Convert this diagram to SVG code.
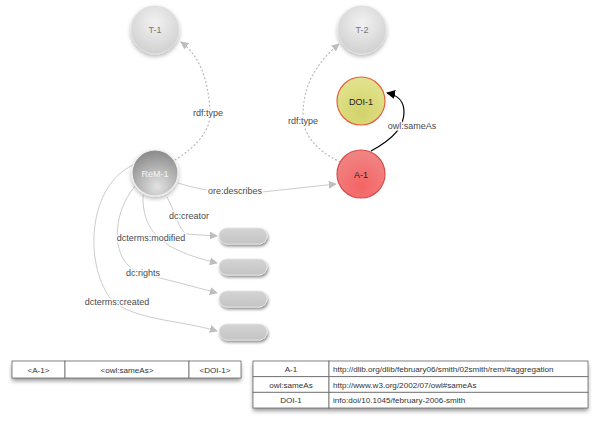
<svg xmlns="http://www.w3.org/2000/svg" width="598" height="427" viewBox="0 0 598 427">
<style>
text{font-family:"Liberation Sans",Arial,Helvetica,sans-serif;}
.nl{font-size:9px;text-anchor:middle;}
.el{font-size:9px;fill:#4a4a4a;text-anchor:middle;paint-order:stroke;stroke:#fff;stroke-width:3px;stroke-linejoin:round;}
.e{fill:none;stroke:#cccccc;stroke-width:1;}
.dot{fill:none;stroke:#b8b8b8;stroke-width:1.2;stroke-dasharray:1 3;stroke-linecap:round;}
.tt{font-size:8.1px;fill:#333;}
.cell{fill:#fff;stroke:#666;stroke-width:0.8;}
</style>
<defs>
<filter id="sh" x="-40%" y="-40%" width="180%" height="180%"><feDropShadow dx="0" dy="2" stdDeviation="2" flood-color="#000" flood-opacity="0.3"/></filter>
<filter id="shp" x="-30%" y="-60%" width="160%" height="220%"><feDropShadow dx="1" dy="2" stdDeviation="1.5" flood-color="#000" flood-opacity="0.45"/></filter>
<filter id="sht" x="-5%" y="-30%" width="110%" height="170%"><feDropShadow dx="0" dy="3" stdDeviation="2.2" flood-color="#000" flood-opacity="0.4"/></filter>
<radialGradient id="gT" cx="0.5" cy="0.35" r="0.65"><stop offset="0" stop-color="#f2f2f2"/><stop offset="1" stop-color="#d0d0d0"/></radialGradient>
<radialGradient id="gR" cx="0.55" cy="0.8" r="0.75"><stop offset="0" stop-color="#e2e2e2"/><stop offset="1" stop-color="#8e8e8e"/></radialGradient>
<radialGradient id="gD" cx="0.5" cy="0.75" r="0.7"><stop offset="0" stop-color="#d2d26a"/><stop offset="1" stop-color="#e2e28e"/></radialGradient>
<radialGradient id="gA" cx="0.5" cy="0.75" r="0.7"><stop offset="0" stop-color="#f56464"/><stop offset="1" stop-color="#f08484"/></radialGradient>
<linearGradient id="gP" x1="0" y1="0" x2="0" y2="1"><stop offset="0" stop-color="#d4d4d4"/><stop offset="1" stop-color="#c4c4c4"/></linearGradient>
<marker id="ag" viewBox="0 0 10 10" refX="9" refY="5" markerWidth="8" markerHeight="8" markerUnits="userSpaceOnUse" orient="auto"><path d="M0,0 L10,5 L0,10 z" fill="#bdbdbd"/></marker>
<marker id="ak" viewBox="0 0 10 10" refX="9" refY="5" markerWidth="9" markerHeight="9" markerUnits="userSpaceOnUse" orient="auto"><path d="M0,0 L10,5 L0,10 z" fill="#000"/></marker>
</defs>

<g id="connectors">
<path class="dot" d="M175,160 C196,147 212,130 210,110 C208,80 200,56 181,42" marker-end="url(#ag)"/>
<path class="dot" d="M340,162 C316,150 303,135 303,115 C303,86 316,63 339,44" marker-end="url(#ag)"/>
<path d="M371,151 C395,138 404,126 404,112 C404,102 398,95 387,93" fill="none" stroke="#000" stroke-width="1.2" marker-end="url(#ak)"/>
<path class="e" d="M178,183 C205,192 235,194 262,192 L336,184" marker-end="url(#ag)"/>
<path class="e" d="M167,197 C176,214 178,228 186,234 L217,236" marker-end="url(#ag)"/>
<path class="e" d="M143,195 C142,232 162,250 217,263" marker-end="url(#ag)"/>
<path class="e" d="M135,186 C111,215 110,262 140,273 C168,280 192,286 217,293" marker-end="url(#ag)"/>
<path class="e" d="M133,165 C88,186 84,262 110,298 C130,320 180,320 217,331" marker-end="url(#ag)"/>
<text class="el" x="208" y="116">rdf:type</text>
<text class="el" x="303" y="124">rdf:type</text>
<text class="el" x="412" y="129">owl:sameAs</text>
<text class="el" x="235" y="194">ore:describes</text>
<text class="el" x="189" y="219">dc:creator</text>
<text class="el" x="151" y="241">dcterms:modified</text>
<text class="el" x="143" y="276">dc:rights</text>
<text class="el" x="117" y="305">dcterms:created</text>
</g>

<g id="T-1"><circle cx="155" cy="30" r="24" fill="url(#gT)" stroke="#e0e0e0" stroke-width="1" filter="url(#sh)"/><text class="nl" x="155" y="33" fill="#777">T-1</text></g>
<g id="T-2"><circle cx="362" cy="30" r="24" fill="url(#gT)" stroke="#e0e0e0" stroke-width="1" filter="url(#sh)"/><text class="nl" x="362" y="33" fill="#777">T-2</text></g>
<g id="DOI-1"><circle cx="361" cy="101" r="24" fill="url(#gD)" stroke="#e2603c" stroke-width="1.2"/><text class="nl" x="361" y="104.5" fill="#222">DOI-1</text></g>
<g id="A-1"><circle cx="361" cy="174" r="24" fill="url(#gA)" stroke="#d84c4c" stroke-width="1.2"/><text class="nl" x="361" y="177.5" fill="#222">A-1</text></g>
<g id="ReM-1"><circle cx="155" cy="173" r="23" fill="url(#gR)" stroke="#eeeeee" stroke-width="1.2" filter="url(#sh)"/><text class="nl" x="155" y="176.5" fill="#f4f4f4">ReM-1</text></g>

<g id="lit-1"><rect x="219" y="228" width="48" height="16" rx="8" fill="url(#gP)" stroke="#e6e6e6" stroke-width="0.8" filter="url(#shp)"/></g>
<g id="lit-2"><rect x="219" y="259" width="48" height="16" rx="8" fill="url(#gP)" stroke="#e6e6e6" stroke-width="0.8" filter="url(#shp)"/></g>
<g id="lit-3"><rect x="219" y="291" width="48" height="16" rx="8" fill="url(#gP)" stroke="#e6e6e6" stroke-width="0.8" filter="url(#shp)"/></g>
<g id="lit-4"><rect x="219" y="324" width="48" height="16" rx="8" fill="url(#gP)" stroke="#e6e6e6" stroke-width="0.8" filter="url(#shp)"/></g>

<g id="table-triple">
<rect x="12" y="361" width="229" height="17" fill="#fff" filter="url(#sht)"/>
<rect class="cell" x="12" y="361" width="53" height="17"/>
<rect class="cell" x="65" y="361" width="124" height="17"/>
<rect class="cell" x="189" y="361" width="52" height="17"/>
<text class="tt" x="38.5" y="372.5" text-anchor="middle">&lt;A-1&gt;</text>
<text class="tt" x="127" y="372.5" text-anchor="middle">&lt;owl:sameAs&gt;</text>
<text class="tt" x="215" y="372.5" text-anchor="middle">&lt;DOI-1&gt;</text>
</g>

<g id="table-uris">
<rect x="253" y="361" width="335" height="47" fill="#fff" filter="url(#sht)"/>
<rect class="cell" x="253" y="361" width="76" height="15.7"/>
<rect class="cell" x="329" y="361" width="259" height="15.7"/>
<rect class="cell" x="253" y="376.7" width="76" height="15.6"/>
<rect class="cell" x="329" y="376.7" width="259" height="15.6"/>
<rect class="cell" x="253" y="392.3" width="76" height="15.7"/>
<rect class="cell" x="329" y="392.3" width="259" height="15.7"/>
<text class="tt" x="291" y="371.8" text-anchor="middle">A-1</text>
<text class="tt" x="333" y="371.8">http://dlib.org/dlib/february06/smith/02smith/rem/#aggregation</text>
<text class="tt" x="291" y="387.5" text-anchor="middle">owl:sameAs</text>
<text class="tt" x="333" y="387.5">http://www.w3.org/2002/07/owl#sameAs</text>
<text class="tt" x="291" y="403.2" text-anchor="middle">DOI-1</text>
<text class="tt" x="333" y="403.2">info:doi/10.1045/february-2006-smith</text>
</g>
</svg>
